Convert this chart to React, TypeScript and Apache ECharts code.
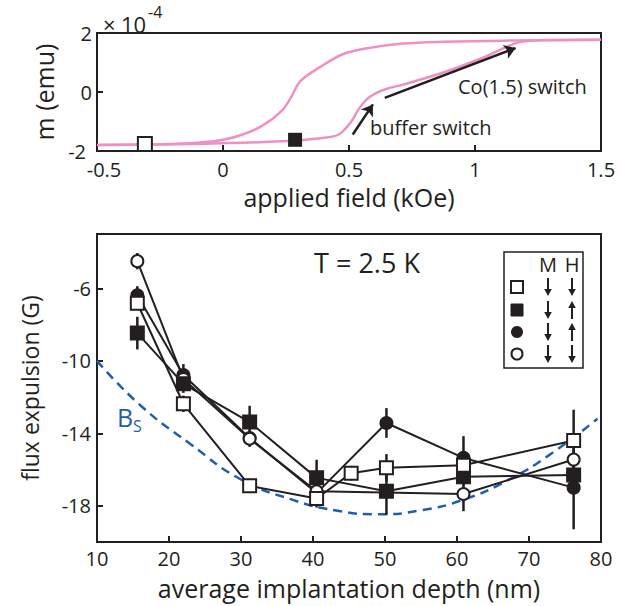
import React, { useEffect, useRef } from "react";
import * as echarts from "echarts";

// ---- Top panel: hysteresis loop (m in units of 1e-4 emu) ----
const leftBranchField = [-0.5, -0.25, -0.1, 0.0, 0.075, 0.155, 0.235, 0.27, 0.307, 0.395, 0.475, 0.554, 0.714, 0.874, 1.11, 1.5];
const leftBranchM = [-1.8, -1.77, -1.72, -1.62, -1.45, -1.15, -0.62, -0.18, 0.37, 0.9, 1.28, 1.46, 1.64, 1.7, 1.74, 1.77];
const rightBranchField = [-0.5, -0.1, 0.235, 0.395, 0.46, 0.506, 0.538, 0.57, 0.602, 0.65, 0.714, 0.874, 1.034, 1.114, 1.177, 1.27, 1.5];
const rightBranchM = [-1.8, -1.76, -1.67, -1.56, -1.44, -1.04, -0.59, -0.25, -0.06, 0.11, 0.25, 0.66, 1.17, 1.49, 1.69, 1.76, 1.77];
const openMarkerPoint = [-0.31, -1.76];
const filledMarkerPoint = [0.286, -1.62];
const bufferArrow = [[0.515, -1.44], [0.595, -0.42]];
const coArrow = [[0.642, -0.2], [1.161, 1.49]];

// ---- Bottom panel: flux expulsion vs depth ----
const depths = [15.6, 22, 31.2, 40.5, 45.3, 50.2, 60.9, 76.2];
const openSquareY = [-6.82, -12.37, -16.9, -17.6, -16.2, -15.9, -15.76, -14.4];
const openSquareErr = [0.35, 0.45, 0.4, 0.5, 0.4, 0.75, 0.5, 1.7];
const filledSquareY = [-8.47, -11.27, -13.38, -16.46, null, -17.2, -16.4, -16.3];
const filledSquareErr = [0.9, 0.5, 0.9, 1.0, null, 1.3, 0.5, 0.5];
const filledCircleY = [-6.38, -10.78, -14.26, -17.3, null, -13.43, -15.36, -17.0];
const filledCircleErr = [0.5, 0.6, 0.4, 0.4, null, 0.82, 1.2, 2.3];
const openCircleY = [-4.5, -11.0, -14.3, -17.2, null, null, -17.35, -15.45];
const openCircleErr = [0.45, 0.4, 0.45, 0.4, null, null, 0.95, 0.5];

const bsDepth = [10, 16, 23, 30, 37, 43, 49, 55, 61, 67, 73, 79.5];
const bsField = [-10.0, -12.45, -14.6, -16.55, -17.65, -18.25, -18.47, -18.25, -17.65, -16.6, -15.15, -13.2];

const yTickValues = [-18, -14, -10, -6];

const INK = "#231f20";
const PINK = "#ef8fc2";
const BLUE = "#1f5db0";
const FONT = "Open Sans";

function pairs(xs: number[], ys: (number | null)[]) {
  return xs.map((x, i) => [x, ys[i]]);
}
function errPairs(xs: number[], ys: (number | null)[], es: (number | null)[]) {
  const out: number[][] = [];
  xs.forEach((x, i) => {
    const y = ys[i];
    const e = es[i];
    if (y != null && e != null) out.push([x, y - e, y + e]);
  });
  return out;
}

function arrowGlyph(x: number, y: number, up: boolean) {
  const tipY = up ? y - 9 : y + 9;
  const tailY = up ? y + 9 : y - 9;
  const baseY = up ? y - 2 : y + 2;
  return [
    { type: "line", shape: { x1: x, y1: tailY, x2: x, y2: baseY }, style: { stroke: INK, lineWidth: 2 } },
    { type: "polygon", shape: { points: [[x, tipY], [x - 3.8, baseY], [x + 3.8, baseY]] }, style: { fill: INK } },
  ];
}

export default function App() {
  const ref = useRef<HTMLDivElement>(null);
  useEffect(() => {
    if (!ref.current) return;
    const chart = echarts.init(ref.current, null, { renderer: "svg" });

    const labelStyle = { color: INK, fontSize: 20, fontFamily: FONT, lineHeight: 18 };
    const axisCommon = {
      axisLine: { show: true, onZero: false, lineStyle: { color: INK, width: 2 } },
      axisTick: { show: true, inside: true, length: 6, lineStyle: { color: INK, width: 2 } },
      splitLine: { show: false },
      axisLabel: labelStyle,
      nameTextStyle: { color: INK, fontSize: 25, fontFamily: FONT, lineHeight: 26 },
    };

    const errRender = (params: any, api: any) => {
      const x = api.value(0);
      const p1 = api.coord([x, api.value(1)]);
      const p2 = api.coord([x, api.value(2)]);
      return {
        type: "line",
        shape: { x1: p1[0], y1: p1[1], x2: p2[0], y2: p2[1] },
        style: { stroke: INK, lineWidth: 2.5 },
      };
    };

    const errSeries = (ys: (number | null)[], es: (number | null)[]) => ({
      type: "custom",
      xAxisIndex: 1,
      yAxisIndex: 1,
      renderItem: errRender,
      encode: { x: 0, y: [1, 2] },
      data: errPairs(depths, ys, es),
      z: 2,
    });

    const dataSeries = (ys: (number | null)[], symbol: string, size: number, fill: string, z: number) => ({
      type: "line",
      xAxisIndex: 1,
      yAxisIndex: 1,
      data: pairs(depths, ys),
      connectNulls: true,
      symbol,
      symbolSize: size,
      showSymbol: true,
      lineStyle: { color: INK, width: 2 },
      itemStyle: { color: fill, borderColor: INK, borderWidth: 2, opacity: 1 },
      z,
    });

    const legendX = 504;
    const legendY = 252;
    const rowsY = [287, 310, 332, 354];
    const legendGraphics: any[] = [
      { type: "rect", shape: { x: legendX, y: legendY, width: 79, height: 116 }, style: { fill: "#fff", stroke: INK, lineWidth: 1.5 }, z: 10 },
      { type: "text", x: 548, y: 264, style: { text: "M", fontSize: 20, fontFamily: FONT, fill: INK, align: "center", verticalAlign: "middle" }, z: 11 },
      { type: "text", x: 572, y: 264, style: { text: "H", fontSize: 20, fontFamily: FONT, fill: INK, align: "center", verticalAlign: "middle" }, z: 11 },
      { type: "rect", shape: { x: 511, y: rowsY[0] - 6, width: 12, height: 12 }, style: { fill: "#fff", stroke: INK, lineWidth: 2 }, z: 11 },
      { type: "rect", shape: { x: 511, y: rowsY[1] - 6, width: 12, height: 12 }, style: { fill: INK, stroke: INK, lineWidth: 1 }, z: 11 },
      { type: "circle", shape: { cx: 517, cy: rowsY[2], r: 6 }, style: { fill: INK }, z: 11 },
      { type: "circle", shape: { cx: 517, cy: rowsY[3], r: 5.5 }, style: { fill: "#fff", stroke: INK, lineWidth: 2 }, z: 11 },
    ];
    const hUp = [false, true, true, false];
    rowsY.forEach((ry, i) => {
      arrowGlyph(548, ry, false).forEach((g) => legendGraphics.push({ ...g, z: 11 }));
      arrowGlyph(572, ry, hUp[i]).forEach((g) => legendGraphics.push({ ...g, z: 11 }));
    });

    chart.setOption({
      animation: false,
      backgroundColor: "#ffffff",
      grid: [
        { left: 97, top: 33, width: 504, height: 118, show: true, borderColor: INK, borderWidth: 2, backgroundColor: "transparent" },
        { left: 97, top: 234, width: 504, height: 310, show: true, borderColor: INK, borderWidth: 2, backgroundColor: "transparent" },
      ],
      xAxis: [
        {
          ...axisCommon,
          gridIndex: 0,
          type: "value",
          min: -0.5,
          max: 1.5,
          interval: 0.5,
          name: "applied field (kOe)",
          nameLocation: "middle",
          nameGap: 33,
          axisLabel: {
            ...labelStyle,
            margin: 9,
            formatter: (v: number) => (v === -0.5 ? "{lo|-0.5}" : String(v)),
            rich: { lo: { ...labelStyle, padding: [0, 0, 0, 14] } },
          },
        },
        {
          ...axisCommon,
          gridIndex: 1,
          type: "value",
          min: 10,
          max: 80,
          interval: 10,
          name: "average implantation depth (nm)",
          nameLocation: "middle",
          nameGap: 33,
          axisLabel: { ...labelStyle, margin: 7 },
        },
      ],
      yAxis: [
        {
          ...axisCommon,
          gridIndex: 0,
          type: "value",
          min: -2,
          max: 2,
          interval: 2,
          name: "m (emu)",
          nameLocation: "middle",
          nameGap: 30,
          axisLabel: {
            ...labelStyle,
            margin: 5,
            lineHeight: 16,
            formatter: (v: number) => (v === -2 ? "{lo|-2}" : String(v)),
            rich: { lo: { ...labelStyle, lineHeight: 16, padding: [0, 6, 0, 0] } },
          },
        },
        {
          ...axisCommon,
          gridIndex: 1,
          type: "value",
          min: -20,
          max: -3,
          name: "flux expulsion (G)",
          nameLocation: "middle",
          nameGap: 55,
          nameTextStyle: { ...axisCommon.nameTextStyle, fontSize: 23, lineHeight: 24 },
          axisLabel: { ...labelStyle, margin: 6, customValues: yTickValues },
          axisTick: { ...axisCommon.axisTick, customValues: yTickValues },
        },
      ],
      series: [
        {
          type: "line",
          xAxisIndex: 0,
          yAxisIndex: 0,
          data: pairs(leftBranchField, leftBranchM),
          smooth: 0.3,
          symbol: "none",
          lineStyle: { color: PINK, width: 2.5 },
          z: 2,
        },
        {
          type: "line",
          xAxisIndex: 0,
          yAxisIndex: 0,
          data: pairs(rightBranchField, rightBranchM),
          smooth: 0.3,
          symbol: "none",
          lineStyle: { color: PINK, width: 2.5 },
          z: 2,
        },
        {
          type: "scatter",
          xAxisIndex: 0,
          yAxisIndex: 0,
          data: [openMarkerPoint],
          symbol: "rect",
          symbolSize: 14,
          itemStyle: { color: "#fff", borderColor: INK, borderWidth: 2, opacity: 1 },
          z: 4,
        },
        {
          type: "scatter",
          xAxisIndex: 0,
          yAxisIndex: 0,
          data: [filledMarkerPoint],
          symbol: "rect",
          symbolSize: 14,
          itemStyle: { color: INK, opacity: 1 },
          z: 4,
          markLine: {
            silent: true,
            symbol: ["none", "arrow"],
            symbolSize: 11,
            label: { show: false },
            lineStyle: { color: INK, width: 2.5, type: "solid" },
            data: [
              [{ coord: bufferArrow[0] }, { coord: bufferArrow[1] }],
              [{ coord: coArrow[0] }, { coord: coArrow[1] }],
            ],
          },
        },
        {
          type: "line",
          xAxisIndex: 1,
          yAxisIndex: 1,
          data: pairs(bsDepth, bsField),
          smooth: true,
          symbol: "none",
          lineStyle: { color: BLUE, width: 2.5, type: [9, 6] },
          z: 1,
        },
        errSeries(filledCircleY, filledCircleErr),
        errSeries(openCircleY, openCircleErr),
        errSeries(filledSquareY, filledSquareErr),
        errSeries(openSquareY, openSquareErr),
        dataSeries(filledCircleY, "circle", 12, INK, 3),
        dataSeries(openCircleY, "circle", 12, "#fff", 4),
        dataSeries(filledSquareY, "rect", 13, INK, 5),
        dataSeries(openSquareY, "rect", 13, "#fff", 6),
      ],
      graphic: [
        { type: "text", x: 103, y: 24, style: { text: "×", fontSize: 22, fontFamily: FONT, fill: INK, verticalAlign: "middle" } },
        { type: "text", x: 121, y: 24, style: { text: "10", fontSize: 22, fontFamily: FONT, fill: INK, verticalAlign: "middle" } },
        { type: "text", x: 148, y: 12, style: { text: "-4", fontSize: 16, fontFamily: FONT, fill: INK, verticalAlign: "middle" } },
        { type: "text", x: 458, y: 86, style: { text: "Co(1.5) switch", fontSize: 20, fontFamily: FONT, fill: INK, verticalAlign: "middle" } },
        { type: "text", x: 370, y: 127, style: { text: "buffer switch", fontSize: 20, fontFamily: FONT, fill: INK, verticalAlign: "middle" } },
        { type: "text", x: 367, y: 262, style: { text: "T = 2.5 K", fontSize: 27, fontFamily: FONT, fill: INK, align: "center", verticalAlign: "middle" } },
        { type: "text", x: 117, y: 417, style: { text: "B", fontSize: 25, fontFamily: FONT, fill: BLUE, verticalAlign: "middle" } },
        { type: "text", x: 133, y: 426, style: { text: "S", fontSize: 16, fontFamily: FONT, fill: BLUE, verticalAlign: "middle" } },
        ...legendGraphics,
      ],
    });
    return () => chart.dispose();
  }, []);

  return <div ref={ref} style={{ position: "fixed", left: 0, top: 0, width: 633, height: 606, background: "#fff" }} />;
}
